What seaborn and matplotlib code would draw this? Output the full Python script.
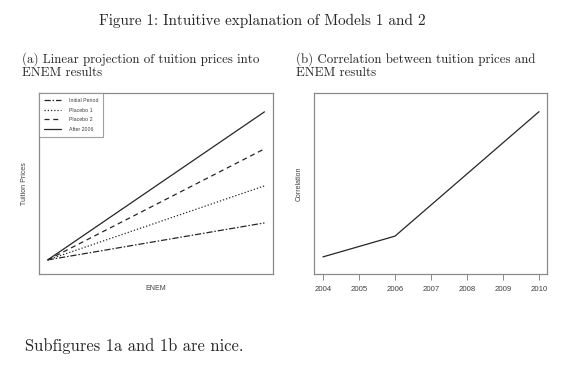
import matplotlib
matplotlib.use("Agg")
import matplotlib.pyplot as plt
import seaborn as sns
import pandas as pd

# panel (a): stylised linear projections (ENEM -> tuition prices)
enem = [0, 1]
initial_period = [0, 1]
placebo_1 = [0, 2]
placebo_2 = [0, 3]
after_2006 = [0, 4]
series_names = ["Initial Period", "Placebo 1", "Placebo 2", "After 2006"]

# panel (b): correlation over time
years = [2004, 2005, 2006, 2007, 2008, 2009, 2010]
correlation = [0.1, 0.2, 0.3, 0.6, 0.9, 1.2, 1.5]

sns.set_style("white")
plt.rcParams['font.family'] = ['Liberation Sans', 'DejaVu Sans']

fig = plt.figure(figsize=(5.71, 3.69), dpi=100)
frame_col = "#8a8a8a"
line_col = "#262626"
text_col = "#404040"
serif = ['cmr10', 'DejaVu Serif']

# --- panel (a)
ax1 = fig.add_axes([0.0683, 0.2575, 0.41, 0.4905])
df_a = pd.DataFrame({
    "ENEM": enem * 4,
    "price": initial_period + placebo_1 + placebo_2 + after_2006,
    "series": sum([[n] * len(enem) for n in series_names], []),
})
styles = {
    "Initial Period": (0, (5, 1.5, 1.2, 1.5)),
    "Placebo 1": (0, (1, 1.6)),
    "Placebo 2": (0, (4, 3)),
    "After 2006": "-",
}
for name in series_names:
    sub = df_a[df_a["series"] == name]
    sns.lineplot(data=sub, x="ENEM", y="price", ax=ax1, color=line_col,
                 linewidth=0.9, linestyle=styles[name], label=name)
ax1.set_xlim(-0.04, 1.04)
ax1.set_ylim(-0.38, 4.51)
ax1.set_xticks([])
ax1.set_yticks([])
ax1.set_xlabel("ENEM", fontsize=5, color=text_col, labelpad=8)
ax1.set_ylabel("Tuition Prices", fontsize=5, color=text_col, labelpad=8)
leg = ax1.legend(loc="upper left", fontsize=3.8, frameon=True, fancybox=False,
                 edgecolor=frame_col, borderaxespad=0, handlelength=3.2,
                 handletextpad=1.4, labelspacing=0.85, borderpad=1.0)
leg.get_frame().set_linewidth(0.8)
for t in leg.get_texts():
    t.set_color(text_col)
for s in ax1.spines.values():
    s.set_color(frame_col)
    s.set_linewidth(0.9)

# --- panel (b)
ax2 = fig.add_axes([0.5499, 0.2575, 0.408, 0.4905])
df_b = pd.DataFrame({"year": years, "corr": correlation})
sns.lineplot(data=df_b, x="year", y="corr", ax=ax2, color=line_col, linewidth=0.9)
ax2.set_xlim(2003.75, 2010.22)
ax2.set_ylim(-0.065, 1.68)
ax2.set_yticks([])
ax2.set_xticks(years)
ax2.set_xticklabels([str(y) for y in years], fontsize=5.6, color=text_col)
ax2.tick_params(axis="x", bottom=True, length=4.5, width=0.7, color=frame_col, pad=4)
ax2.set_xlabel("")
ax2.set_ylabel("Correlation", fontsize=5, color=text_col, labelpad=8)
for s in ax2.spines.values():
    s.set_color(frame_col)
    s.set_linewidth(0.9)

# --- LaTeX-style captions
fig.text(262 / 571, 1 - 21 / 369, "Figure 1: Intuitive explanation of Models 1 and 2",
         family=serif, fontsize=10.9, ha="center", va="center")
for x0, lines in [(22, ["(a) Linear projection of tuition prices into", "ENEM results"]),
                  (296, ["(b) Correlation between tuition prices and", "ENEM results"])]:
    for y0, s in zip([59, 73], lines):
        fig.text(x0 / 571, 1 - y0 / 369, s, family=serif, fontsize=9.3,
                 ha="left", va="center")
fig.text(25 / 571, 1 - 346 / 369, "Subfigures 1a and 1b are nice.",
         family=serif, fontsize=11.9, ha="left", va="center")

fig.savefig("out.png", dpi=100)
